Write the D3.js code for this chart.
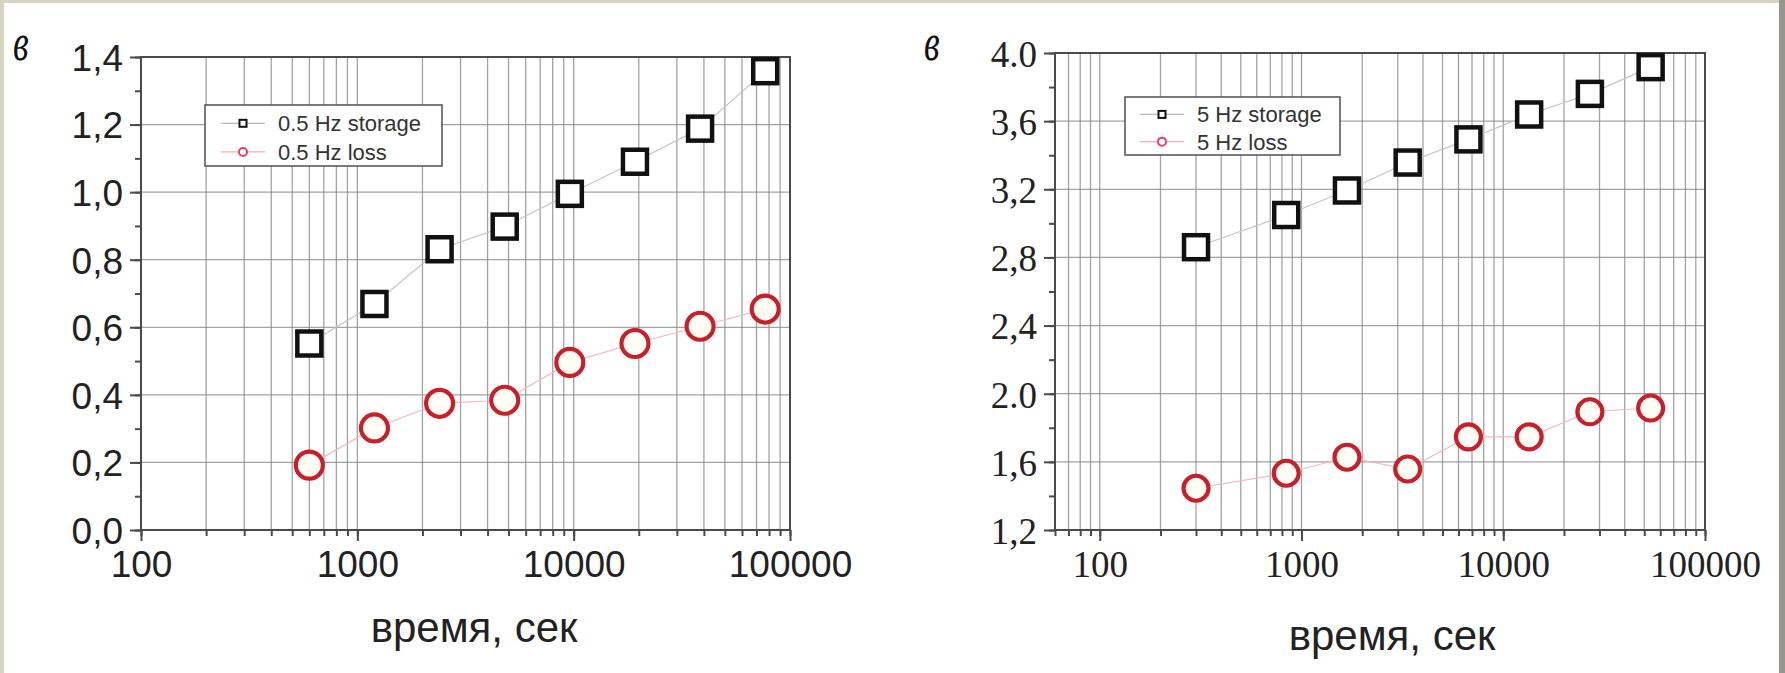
<!DOCTYPE html>
<html>
<head>
<meta charset="utf-8">
<script src="https://cdn.jsdelivr.net/npm/d3@7"></script>
<style>
  html, body { margin: 0; padding: 0; }
  body { width: 1785px; height: 673px; background: #d6d3c1; overflow: hidden; }
  svg { display: block; }
  .sans-ticks text { font-family: "Liberation Sans", Arial, Helvetica, sans-serif !important; }
  .serif-ticks text { font-family: "Liberation Serif", "Times New Roman", Times, "DejaVu Serif", serif !important; }
  .letter { font-family: "Liberation Serif", "Times New Roman", Times, "DejaVu Serif", serif; font-style: italic; }
</style>
</head>
<body>
<svg id="chart" width="1785" height="673"></svg>
<script>
// Panel A: 0.5 Hz
const timeA = [600, 1200, 2400, 4800, 9600, 19200, 38400, 76800];
const storageA = [0.552, 0.669, 0.831, 0.898, 0.995, 1.090, 1.188, 1.358];
const lossA = [0.192, 0.302, 0.375, 0.384, 0.496, 0.552, 0.603, 0.654];
const yTicksA = [0, 0.2, 0.4, 0.6, 0.8, 1.0, 1.2, 1.4];
const yTickLabelsA = ["0,0", "0,2", "0,4", "0,6", "0,8", "1,0", "1,2", "1,4"];
const legendA = ["0.5 Hz storage", "0.5 Hz loss"];

// Panel B: 5 Hz
const timeB = [300, 840, 1680, 3360, 6720, 13440, 26880, 53760];
const storageB = [2.860, 3.049, 3.193, 3.357, 3.493, 3.639, 3.760, 3.917];
const lossB = [1.445, 1.533, 1.627, 1.558, 1.747, 1.747, 1.894, 1.916];
const yTicksB = [1.2, 1.6, 2.0, 2.4, 2.8, 3.2, 3.6, 4.0];
const yTickLabelsB = ["1,2", "1,6", "2.0", "2,4", "2,8", "3,2", "3,6", "4.0"];
const legendB = ["5 Hz storage", "5 Hz loss"];

const xTicks = [100, 1000, 10000, 100000];
const xTickLabels = ["100", "1000", "10000", "100000"];
const axisTitle = "время, сек";
const panelLetter = "в";

const SANS = "Liberation Sans, Arial, Helvetica, sans-serif";

const svg = d3.select("#chart");

// paper background with its darker right edge
svg.append("rect").attr("x", 4).attr("y", 3).attr("width", 1775).attr("height", 670).attr("fill", "#ffffff");
svg.append("rect").attr("x", 1779).attr("y", 0).attr("width", 6).attr("height", 673).attr("fill", "#98958a");

const GRID = "#8c8c8c";
const FRAME = "#4a4a4a";
const RED = "#c8202a";

function drawPanel(p) {
  const g = svg.append("g");
  const x = d3.scaleLog().domain(p.xDomain).range([p.left, p.right]);
  const y = d3.scaleLinear().domain(p.yDomain).range([p.bottom, p.top]);

  // every log subdivision inside the domain
  const minorX = [];
  for (let dec = 10; dec <= 100000; dec *= 10) {
    for (let k = 1; k <= 9; k++) {
      const v = dec * k;
      if (v >= p.xDomain[0] - 1e-9 && v <= p.xDomain[1] + 1e-9) minorX.push(v);
    }
  }
  const minorY = d3.range(p.yDomain[0], p.yDomain[1] + 1e-9, p.yMinorStep).map(v => +v.toFixed(4));

  // vertical grid
  g.append("g").selectAll("line").data(minorX).join("line")
    .attr("x1", d => x(d)).attr("x2", d => x(d))
    .attr("y1", p.top).attr("y2", p.bottom)
    .attr("stroke", GRID).attr("stroke-width", 1.3).attr("opacity", 0.8);
  // horizontal grid at major values
  g.append("g").selectAll("line").data(p.yTicks).join("line")
    .attr("x1", p.left).attr("x2", p.right)
    .attr("y1", d => y(d)).attr("y2", d => y(d))
    .attr("stroke", GRID).attr("stroke-width", 1.3).attr("opacity", 0.8);

  // frame
  g.append("rect").attr("x", p.left).attr("y", p.top)
    .attr("width", p.right - p.left).attr("height", p.bottom - p.top)
    .attr("fill", "none").attr("stroke", FRAME).attr("stroke-width", 2);

  // axes
  const styleAxis = (sel) => {
    sel.attr("class", p.tickClass).attr("font-family", null).attr("font-size", p.tickFontSize);
    sel.select(".domain").remove();
    sel.selectAll(".tick line").attr("stroke", FRAME).attr("stroke-width", 2);
    sel.selectAll(".tick text").attr("fill", "#222").attr("font-size", p.tickFontSize);
  };
  const xMinor = g.append("g").attr("transform", `translate(0,${p.bottom})`)
    .call(d3.axisBottom(x).tickValues(minorX).tickSize(6).tickFormat(""));
  styleAxis(xMinor);
  const xMajor = g.append("g").attr("transform", `translate(0,${p.bottom})`)
    .call(d3.axisBottom(x).tickValues(xTicks).tickSize(11).tickPadding(10)
      .tickFormat((d, i) => xTickLabels[i]));
  styleAxis(xMajor);

  const yMinor = g.append("g").attr("transform", `translate(${p.left},0)`)
    .call(d3.axisLeft(y).tickValues(minorY).tickSize(6).tickFormat(""));
  styleAxis(yMinor);
  const yMajor = g.append("g").attr("transform", `translate(${p.left},0)`)
    .call(d3.axisLeft(y).tickValues(p.yTicks).tickSize(11).tickPadding(7)
      .tickFormat((d, i) => p.yTickLabels[i]));
  styleAxis(yMajor);
  yMajor.selectAll(".tick text").attr("dy", "0.36em");

  // connecting lines
  const line = d3.line().x(d => x(d[0])).y(d => y(d[1]));
  g.append("path").datum(p.time.map((t, i) => [t, p.storage[i]]))
    .attr("d", line).attr("fill", "none").attr("stroke", "#c4c4c4").attr("stroke-width", 1.2);
  g.append("path").datum(p.time.map((t, i) => [t, p.loss[i]]))
    .attr("d", line).attr("fill", "none").attr("stroke", "#f3b8bb").attr("stroke-width", 1.2);

  // markers
  g.append("g").selectAll("rect").data(p.time.map((t, i) => [t, p.storage[i]])).join("rect")
    .attr("x", d => x(d[0]) - p.sq / 2).attr("y", d => y(d[1]) - p.sq / 2)
    .attr("width", p.sq).attr("height", p.sq)
    .attr("fill", "#ffffff").attr("stroke", "#111").attr("stroke-width", 4.5);
  g.append("g").selectAll("circle").data(p.time.map((t, i) => [t, p.loss[i]])).join("circle")
    .attr("cx", d => x(d[0])).attr("cy", d => y(d[1])).attr("r", p.r)
    .attr("fill", "#fffdf4").attr("stroke", RED).attr("stroke-width", 4.2);

  // legend
  const L = p.legend;
  const lg = g.append("g");
  lg.append("rect").attr("x", L.x).attr("y", L.y).attr("width", L.w).attr("height", L.h)
    .attr("fill", "#ffffff").attr("stroke", "#5a5a5a").attr("stroke-width", 1.6);
  const rows = [L.y + L.h * 0.3, L.y + L.h * 0.77];
  rows.forEach((ry, i) => {
    lg.append("line").attr("x1", L.sx - 22).attr("x2", L.sx + 22).attr("y1", ry).attr("y2", ry)
      .attr("stroke", i === 0 ? "#b8b8b8" : "#f0b0b4").attr("stroke-width", 1.3);
    if (i === 0) {
      lg.append("rect").attr("x", L.sx - 3.5).attr("y", ry - 3.5).attr("width", 7).attr("height", 7)
        .attr("fill", "#fff").attr("stroke", "#111").attr("stroke-width", 2);
    } else {
      lg.append("circle").attr("cx", L.sx).attr("cy", ry).attr("r", 4)
        .attr("fill", "#fff").attr("stroke", "#e0406a").attr("stroke-width", 2);
    }
    lg.append("text").attr("x", L.tx).attr("y", ry).attr("dy", "0.36em")
      .attr("font-family", SANS).attr("font-size", 22)
      .attr("fill", "#333").text(p.legendLabels[i]);
  });

  // axis title
  g.append("text").attr("x", p.titleX).attr("y", p.titleY).attr("text-anchor", "middle")
    .attr("font-family", SANS).attr("font-size", 42)
    .attr("fill", "#222").text(axisTitle);

  // panel letter, stretched upward like a handwritten mark
  g.append("text").attr("class", "letter")
    .attr("transform", `translate(${p.letterX},60) scale(1,1.45)`)
    .attr("font-size", 36).attr("fill", "#111").text(panelLetter);
}

drawPanel({
  xDomain: [100, 100000], yDomain: [0, 1.4], yMinorStep: 0.1,
  left: 141, right: 790, top: 57, bottom: 530,
  yTicks: yTicksA, yTickLabels: yTickLabelsA,
  time: timeA, storage: storageA, loss: lossA,
  tickClass: "sans-ticks", tickFontSize: 37,
  sq: 24, r: 13.5,
  legend: { x: 205, y: 105, w: 237, h: 61, sx: 243, tx: 278 },
  legendLabels: legendA,
  titleX: 474, titleY: 642, letterX: 13
});

drawPanel({
  xDomain: [60, 100000], yDomain: [1.2, 4.0], yMinorStep: 0.2,
  left: 1055, right: 1705, top: 53, bottom: 530,
  yTicks: yTicksB, yTickLabels: yTickLabelsB,
  time: timeB, storage: storageB, loss: lossB,
  tickClass: "serif-ticks", tickFontSize: 37,
  sq: 24, r: 12.5,
  legend: { x: 1125, y: 97, w: 215, h: 58, sx: 1162, tx: 1197 },
  legendLabels: legendB,
  titleX: 1392, titleY: 650, letterX: 924
});
</script>
</body>
</html>
